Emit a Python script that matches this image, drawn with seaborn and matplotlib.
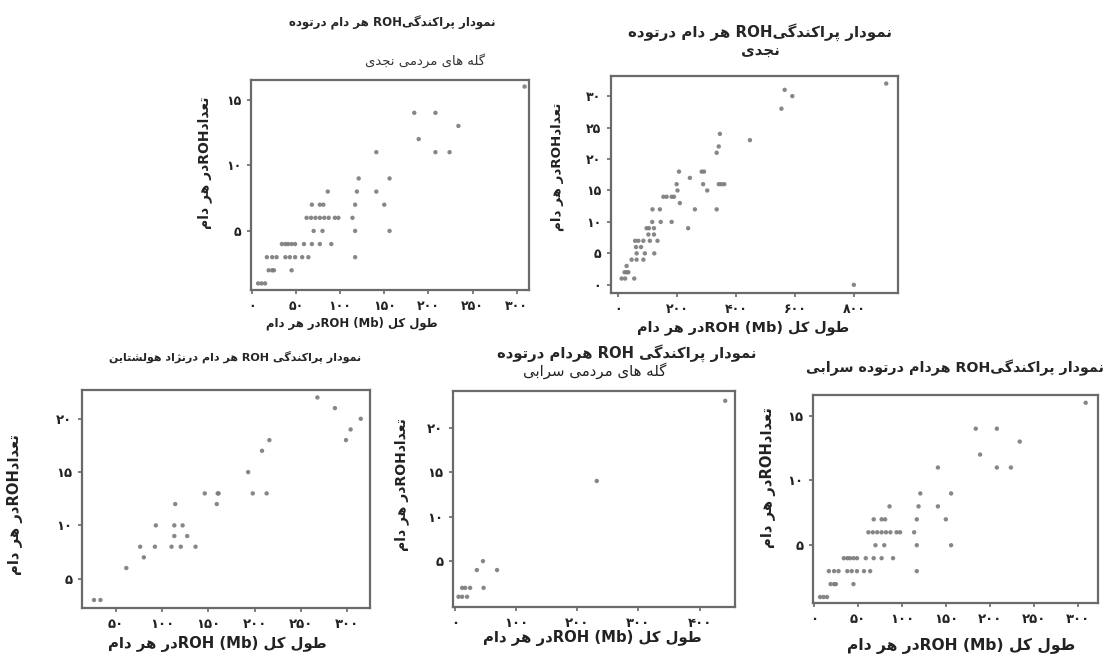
import matplotlib
matplotlib.use("Agg")
import matplotlib.pyplot as plt
from matplotlib.ticker import FuncFormatter, FixedLocator
import seaborn as sns
import pandas as pd

# ---------------- data ----------------
# plot 1: Najdi herds (total ROH length Mb, ROH count)
najdi_herd_len = [309, 184, 208, 234, 189, 141, 208, 224, 121, 156, 86, 119, 141,
                  68, 77, 81, 117, 150, 62, 67, 72, 77, 82, 87, 94, 98, 114,
                  70, 80, 117, 156, 34, 38, 41, 45, 49, 59, 68, 77, 90,
                  17, 23, 28, 38, 43, 49, 57, 64, 117, 19, 23, 25, 45, 7, 11, 15]
najdi_herd_cnt = [16, 14, 14, 13, 12, 11, 11, 11, 9, 9, 8, 8, 8,
                  7, 7, 7, 7, 7, 6, 6, 6, 6, 6, 6, 6, 6, 6,
                  5, 5, 5, 5, 4, 4, 4, 4, 4, 4, 4, 4, 4,
                  3, 3, 3, 3, 3, 3, 3, 3, 3, 2, 2, 2, 2, 1, 1, 1]

# plot 2: Najdi population
najdi_len = [910, 565, 591, 554, 447, 345, 341, 334, 206, 283, 291, 243, 198, 288,
             341, 350, 360, 201, 302, 153, 164, 181, 189, 209, 116, 141, 260, 334,
             115, 144, 181, 237, 96, 104, 121, 102, 121, 107, 133, 57, 68, 85,
             60, 77, 62, 90, 122, 45, 62, 85, 28, 21, 34, 28, 11, 23, 54, 800]
najdi_cnt = [32, 31, 30, 28, 23, 24, 22, 21, 18, 18, 18, 17, 16, 16,
             16, 16, 16, 15, 15, 14, 14, 14, 14, 13, 12, 12, 12, 12,
             10, 10, 10, 9, 9, 9, 9, 8, 8, 7, 7, 7, 7, 7,
             6, 6, 5, 5, 5, 4, 4, 4, 2, 2, 2, 3, 1, 1, 1, 0]

# plot 3: Holstein
holstein_len = [268, 287, 315, 304, 299, 216, 208, 193, 198, 213, 146, 160, 161, 159,
                114, 93, 113, 122, 113, 127, 76, 92, 110, 120, 136, 80, 61, 26, 33]
holstein_cnt = [22, 21, 20, 19, 18, 18, 17, 15, 13, 13, 13, 13, 13, 12,
                12, 10, 10, 10, 9, 9, 8, 8, 8, 8, 8, 7, 6, 3, 3]

# plot 4: Sarabi herds
sarabi_herd_len = [442, 232, 46, 36, 69, 12, 17, 25, 47, 6, 12, 20]
sarabi_herd_cnt = [23, 14, 5, 4, 4, 2, 2, 2, 2, 1, 1, 1]

# plot 5: Sarabi population
sarabi_len = [309, 184, 208, 234, 189, 141, 208, 224, 121, 156, 86, 119, 141,
              68, 77, 81, 117, 150, 62, 67, 72, 77, 82, 87, 94, 98, 114,
              70, 80, 117, 156, 34, 38, 41, 45, 49, 59, 68, 77, 90,
              17, 23, 28, 38, 43, 49, 57, 64, 117, 19, 23, 25, 45, 7, 11, 15]
sarabi_cnt = [16, 14, 14, 13, 12, 11, 11, 11, 9, 9, 8, 8, 8,
              7, 7, 7, 7, 7, 6, 6, 6, 6, 6, 6, 6, 6, 6,
              5, 5, 5, 5, 4, 4, 4, 4, 4, 4, 4, 4, 4,
              3, 3, 3, 3, 3, 3, 3, 3, 3, 2, 2, 2, 2, 1, 1, 1]

# ticks
ticks1_x = [0, 50, 100, 150, 200, 250, 300]
ticks1_y = [5, 10, 15]
ticks2_x = [0, 200, 400, 600, 800]
ticks2_y = [0, 5, 10, 15, 20, 25, 30]
ticks3_x = [50, 100, 150, 200, 250, 300]
ticks3_y = [5, 10, 15, 20]
ticks4_x = [0, 100, 200, 300, 400]
ticks4_y = [5, 10, 15, 20]

# ---------------- Persian shaping helpers ----------------
FORMS = {
    '\u0627': ('\uFE8D', '\uFE8E', None, None),          # alef
    '\u0628': ('\uFE8F', '\uFE90', '\uFE91', '\uFE92'),  # beh
    '\u067E': ('\uFB56', '\uFB57', '\uFB58', '\uFB59'),  # peh
    '\u062A': ('\uFE95', '\uFE96', '\uFE97', '\uFE98'),  # teh
    '\u062C': ('\uFE9D', '\uFE9E', '\uFE9F', '\uFEA0'),  # jeem
    '\u062F': ('\uFEA9', '\uFEAA', None, None),          # dal
    '\u0631': ('\uFEAD', '\uFEAE', None, None),          # reh
    '\u0632': ('\uFEAF', '\uFEB0', None, None),          # zain
    '\u0698': ('\uFB8A', '\uFB8B', None, None),          # jeh
    '\u0633': ('\uFEB1', '\uFEB2', '\uFEB3', '\uFEB4'),  # seen
    '\u0634': ('\uFEB5', '\uFEB6', '\uFEB7', '\uFEB8'),  # sheen
    '\u0637': ('\uFEC1', '\uFEC2', '\uFEC3', '\uFEC4'),  # tah
    '\u0639': ('\uFEC9', '\uFECA', '\uFECB', '\uFECC'),  # ain
    '\u06A9': ('\uFB8E', '\uFB8F', '\uFB90', '\uFB91'),  # keheh
    '\u06AF': ('\uFB92', '\uFB93', '\uFB94', '\uFB95'),  # gaf
    '\u0644': ('\uFEDD', '\uFEDE', '\uFEDF', '\uFEE0'),  # lam
    '\u0645': ('\uFEE1', '\uFEE2', '\uFEE3', '\uFEE4'),  # meem
    '\u0646': ('\uFEE5', '\uFEE6', '\uFEE7', '\uFEE8'),  # noon
    '\u0647': ('\uFEE9', '\uFEEA', '\uFEEB', '\uFEEC'),  # heh
    '\u0648': ('\uFEED', '\uFEEE', None, None),          # waw
    '\u06CC': ('\uFBFC', '\uFBFD', '\uFBFE', '\uFBFF'),  # farsi yeh
}


def rtl(s):
    s = s.replace('\u064A', '\u06CC').replace('\u0643', '\u06A9')
    out = []
    n = len(s)
    for i, ch in enumerate(s):
        if ch not in FORMS:
            out.append(ch)
            continue
        iso, fin, ini, med = FORMS[ch]
        prev_j = i > 0 and s[i - 1] in FORMS and FORMS[s[i - 1]][2] is not None
        next_j = (ini is not None) and i < n - 1 and s[i + 1] in FORMS
        if prev_j and next_j:
            out.append(med)
        elif prev_j:
            out.append(fin)
        elif next_j:
            out.append(ini)
        else:
            out.append(iso)
    return ''.join(reversed(out))


FA_DIGITS = '۰۱۲۳۴۵۶۷۸۹'


def fa_num(v, pos=None):
    return ''.join(FA_DIGITS[int(c)] for c in str(int(round(v))))


# ---------------- texts (visual order) ----------------
ylab = rtl('در هر دام') + 'ROH' + rtl('تعداد')
xlab = rtl('در هر دام') + 'ROH (Mb) ' + rtl('طول کل')
t1 = rtl('هر دام درتوده') + ' ROH' + rtl('نمودار پراکندگی')
s1 = rtl('گله های مردمی نجدی')
t2 = rtl('هر دام درتوده') + ' ROH' + rtl('نمودار پراکندگی') + '\n' + rtl('نجدی')
t3 = rtl('هر دام درنژاد هولشتاین') + ' ROH ' + rtl('نمودار پراکندگی')
t4 = rtl('هردام درتوده') + ' ROH ' + rtl('نمودار پراکندگی')
s4 = rtl('گله های مردمی سرابی')
t5 = rtl('هردام درتوده سرابی') + ' ROH' + rtl('نمودار پراکندگی')

# ---------------- figure ----------------
sns.set_theme(style="white")
plt.rcParams['font.family'] = ['DejaVu Sans']

W, H = 1110, 656
fig = plt.figure(figsize=(W / 100, H / 100), dpi=100)
fig.patch.set_facecolor('white')


def make_ax(l, r, t, b):
    return fig.add_axes([l / W, 1 - b / H, (r - l) / W, (b - t) / H])


panels = [
    dict(box=(251, 529, 80, 290), x=najdi_herd_len, y=najdi_herd_cnt,
         xlim=(-1, 314), ylim=(0.5, 16.5), xt=ticks1_x, yt=ticks1_y, fs=9),
    dict(box=(611, 898, 76, 293), x=najdi_len, y=najdi_cnt,
         xlim=(-25, 950), ylim=(-1.3, 33.2), xt=ticks2_x, yt=ticks2_y, fs=9),
    dict(box=(82, 370, 390, 608), x=holstein_len, y=holstein_cnt,
         xlim=(13, 325), ylim=(2.25, 22.7), xt=ticks3_x, yt=ticks3_y, fs=9.5),
    dict(box=(453, 735, 391, 607), x=sarabi_herd_len, y=sarabi_herd_cnt,
         xlim=(-3, 458), ylim=(-0.15, 24.1), xt=ticks4_x, yt=ticks4_y, fs=9.5),
    dict(box=(813, 1098, 395, 603), x=sarabi_len, y=sarabi_cnt,
         xlim=(-1, 323), ylim=(0.54, 16.6), xt=ticks1_x, yt=ticks1_y, fs=9.5),
]

for p in panels:
    ax = make_ax(*p['box'])
    df = pd.DataFrame({'len': p['x'], 'cnt': p['y']})
    sns.scatterplot(data=df, x='len', y='cnt', ax=ax, color='#7a7a7a',
                    s=10, edgecolor='none', alpha=0.9, legend=False)
    ax.set_xlim(*p['xlim'])
    ax.set_ylim(*p['ylim'])
    ax.xaxis.set_major_locator(FixedLocator(p['xt']))
    ax.yaxis.set_major_locator(FixedLocator(p['yt']))
    ax.xaxis.set_major_formatter(FuncFormatter(fa_num))
    ax.yaxis.set_major_formatter(FuncFormatter(fa_num))
    ax.set_xlabel('')
    ax.set_ylabel('')
    for sp in ax.spines.values():
        sp.set_visible(True)
        sp.set_color('#6a6a6a')
        sp.set_linewidth(1.6)
    ax.tick_params(axis='both', which='both', direction='out', length=3,
                   width=1.2, color='#6a6a6a', labelsize=p['fs'], labelcolor='#222222',
                   bottom=True, left=True, pad=4)
    for lab in ax.get_xticklabels() + ax.get_yticklabels():
        lab.set_fontweight('bold')
    ax.set_facecolor('white')

# titles
fig.text(392 / W, 1 - 23 / H, t1, ha='center', va='center', fontsize=8.5, fontweight='bold')
fig.text(425 / W, 1 - 61 / H, s1, ha='center', va='center', fontsize=9.5, color='#333333')
fig.text(760 / W, 1 - 41 / H, t2, ha='center', va='center', fontsize=10.8, fontweight='bold',
         linespacing=1.25)
fig.text(235 / W, 1 - 357 / H, t3, ha='center', va='center', fontsize=8, fontweight='bold')
fig.text(627 / W, 1 - 353 / H, t4, ha='center', va='center', fontsize=10.6, fontweight='bold')
fig.text(595 / W, 1 - 371 / H, s4, ha='center', va='center', fontsize=10.8, color='#222222')
fig.text(955 / W, 1 - 368 / H, t5, ha='center', va='center', fontsize=10.3, fontweight='bold')

# axis labels
ylab_pos = [(205, 163, 10), (557, 167, 9.7), (15, 505, 10.6), (402, 485, 10.1), (768, 478, 10.6)]
xlab_pos = [(352, 323, 8.4), (743, 328, 10.4), (217, 644, 10.7), (592, 638, 10.7), (961, 646, 11.2)]
for x, y, fs in ylab_pos:
    fig.text(x / W, 1 - y / H, ylab, ha='center', va='center', rotation=90,
             fontsize=fs, fontweight='bold', color='#222222')
for x, y, fs in xlab_pos:
    fig.text(x / W, 1 - y / H, xlab, ha='center', va='center',
             fontsize=fs, fontweight='bold', color='#222222')

fig.savefig('out.png', dpi=100, facecolor='white')
